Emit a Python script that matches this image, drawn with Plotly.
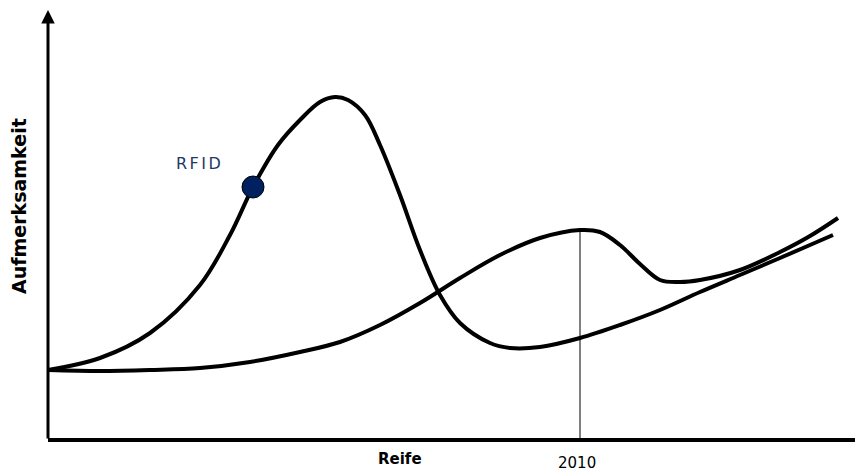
import plotly.graph_objects as go

# Hype cycle curve (attention vs. maturity), arbitrary units
hype_x = [0, 52, 102, 152, 182, 205, 230, 252, 272, 287, 300, 317, 332, 352, 372, 392, 412, 442, 462, 492, 532, 572, 612, 652, 692, 732, 762, 785]
hype_y = [70, 82, 107, 155, 205, 253, 295, 320, 338, 343, 340, 325, 295, 245, 190, 145, 117, 97, 92, 93, 102, 115, 130, 148, 165, 182, 195, 205]

# Second curve with its local peak
trend_x = [0, 52, 102, 152, 202, 252, 292, 332, 372, 412, 452, 492, 532, 552, 572, 592, 612, 632, 652, 692, 732, 762, 790]
trend_y = [70, 69, 70, 72, 78, 88, 98, 115, 137, 162, 185, 202, 210, 208, 195, 176, 160, 158, 160, 170, 188, 204, 222]

rfid_x, rfid_y = 205, 253
peak_year = "2010"
peak_x, peak_y = 532, 210

fig = go.Figure()
fig.add_trace(go.Scatter(x=hype_x, y=hype_y, mode="lines",
                         line=dict(color="black", width=4, shape="spline", smoothing=1.0),
                         hoverinfo="skip"))
fig.add_trace(go.Scatter(x=trend_x, y=trend_y, mode="lines",
                         line=dict(color="black", width=4, shape="spline", smoothing=1.0),
                         hoverinfo="skip"))

# vertical marker line at the local peak
fig.add_shape(type="line", x0=peak_x, x1=peak_x, y0=0, y1=peak_y,
              line=dict(color="black", width=1), layer="below")

# axes
fig.add_shape(type="line", x0=0, x1=807, y0=0, y1=0, line=dict(color="black", width=4))
fig.add_annotation(x=0, y=430, ax=0, ay=0, xref="x", yref="y", axref="x", ayref="y",
                   showarrow=True, arrowhead=2, arrowsize=0.9, arrowwidth=3,
                   arrowcolor="black", text="")

# RFID point
fig.add_trace(go.Scatter(x=[rfid_x], y=[rfid_y], mode="markers",
                         marker=dict(size=22, color="#002060", line=dict(color="black", width=1)),
                         hoverinfo="skip"))
fig.add_annotation(x=151, y=277, text='<span style="letter-spacing:2.5px">RFID</span>',
                   showarrow=False,
                   font=dict(family="DejaVu Sans", size=16, color="#1F3864"))

fig.add_annotation(x=352, y=-19, text="<b>Reife</b>", showarrow=False,
                   font=dict(family="DejaVu Sans", size=15, color="black"))
fig.add_annotation(x=529, y=-23, text=peak_year, showarrow=False,
                   font=dict(family="DejaVu Sans", size=15, color="black"))
fig.add_annotation(x=-29, y=234, text="<b>Aufmerksamkeit</b>", showarrow=False, textangle=-90,
                   font=dict(family="DejaVu Sans", size=19, color="black"))

fig.update_layout(
    width=855, height=473,
    margin=dict(l=0, r=0, t=0, b=0),
    paper_bgcolor="white", plot_bgcolor="white",
    showlegend=False,
    xaxis=dict(range=[-48, 807], visible=False, fixedrange=True),
    yaxis=dict(range=[-33, 440], visible=False, fixedrange=True),
)

fig.write_html("out.html")
